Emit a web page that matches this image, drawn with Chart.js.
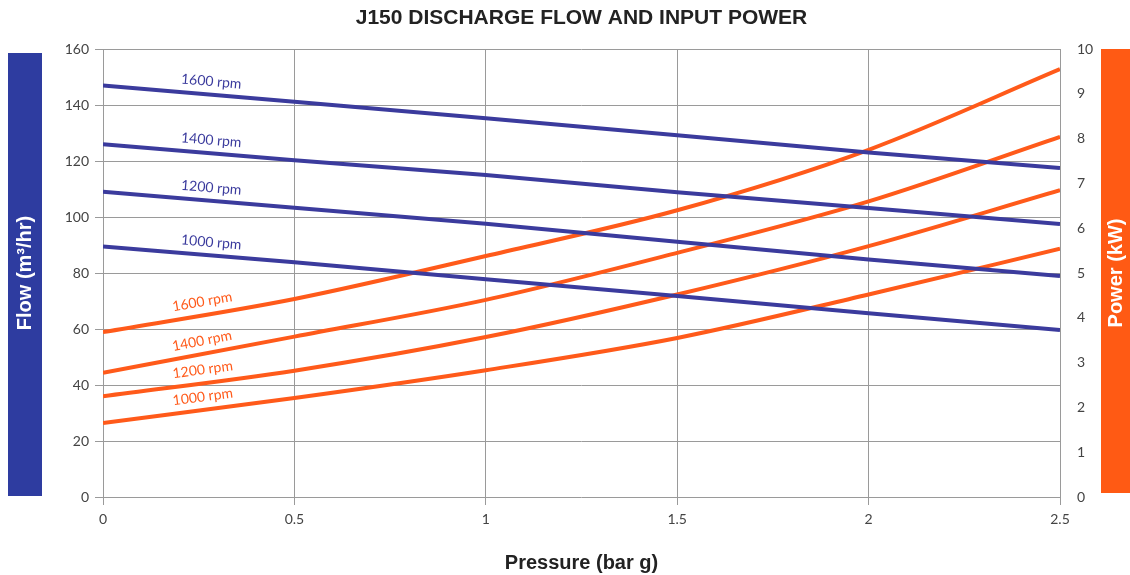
<!DOCTYPE html>
<html>
<head>
<meta charset="utf-8">
<script src="https://cdn.jsdelivr.net/npm/chart.js@4.4.0/dist/chart.umd.min.js"></script>
<style>
html, body { margin: 0; padding: 0; background: #fff; }
#wrap { width: 1130px; height: 575px; position: relative; }
</style>
</head>
<body>
<div id="wrap"><canvas id="j150"></canvas></div>
<script>
// pressure (bar g) on x
const pressure = [0, 0.5, 1, 1.5, 2, 2.5];
const speeds = ['1600 rpm', '1400 rpm', '1200 rpm', '1000 rpm'];

// discharge flow m3/hr (left axis)
const flow1600 = [147, 141.2, 135.3, 129.2, 123, 117.5];
const flow1400 = [126, 120.3, 115, 108.8, 103.2, 97.5];
const flow1200 = [109, 103.3, 97.6, 91.2, 84.8, 78.9];
const flow1000 = [89.5, 83.8, 77.8, 71.8, 65.6, 59.6];

// input power kW (right axis)
const power1600 = [3.68, 4.42, 5.38, 6.4, 7.75, 9.55];
const power1400 = [2.77, 3.58, 4.4, 5.45, 6.6, 8.04];
const power1200 = [2.25, 2.82, 3.57, 4.52, 5.6, 6.85];
const power1000 = [1.65, 2.21, 2.83, 3.55, 4.52, 5.54];

const BLUE = '#3b3b9d';
const ORANGE = '#ff5a1a';
const TICK_FONT = { family: 'Lato', size: 14 };
const BOLD = '"Liberation Sans", Arial, sans-serif';

function pts(vals) {
    return pressure.map((p, i) => ({ x: p, y: vals[i] }));
}

const flows = [flow1600, flow1400, flow1200, flow1000];
const powers = [power1600, power1400, power1200, power1000];

const datasets = [];
flows.forEach((f, i) => {
    datasets.push({
        label: 'Flow ' + speeds[i],
        data: pts(f),
        borderColor: BLUE,
        borderWidth: 4,
        pointRadius: 0,
        tension: 0,
        yAxisID: 'y',
        rpm: speeds[i]
    });
});
powers.forEach((p, i) => {
    datasets.push({
        label: 'Power ' + speeds[i],
        data: pts(p),
        borderColor: ORANGE,
        borderWidth: 4,
        pointRadius: 0,
        cubicInterpolationMode: 'monotone',
        yAxisID: 'y1',
        rpm: speeds[i]
    });
});

// title, side bars + rpm labels on the lines
const decor = {
    id: 'decor',
    beforeDraw(chart) {
        const ctx = chart.ctx;
        const a = chart.chartArea;
        const midY = (a.top + a.bottom) / 2;
        ctx.save();
        ctx.fillStyle = '#2e3ca0';
        ctx.fillRect(8, a.top + 4, 34, a.bottom - a.top - 5);
        ctx.fillStyle = '#ff5a14';
        ctx.fillRect(1101, a.top, 29, a.bottom - a.top - 4);

        ctx.fillStyle = '#222';
        ctx.font = 'bold 21px ' + BOLD;
        ctx.textAlign = 'center';
        ctx.textBaseline = 'middle';
        ctx.fillText('J150 DISCHARGE FLOW AND INPUT POWER', (a.left + a.right) / 2, 18);
        ctx.restore();

        [['Flow (m\u00B3/hr)', 25], ['Power (kW)', 1116]].forEach(([txt, x]) => {
            ctx.save();
            ctx.fillStyle = '#fff';
            ctx.font = 'bold 20px ' + BOLD;
            ctx.textAlign = 'center';
            ctx.textBaseline = 'middle';
            ctx.translate(x, midY);
            ctx.rotate(-Math.PI / 2);
            ctx.fillText(txt, 0, 0);
            ctx.restore();
        });
    },
    afterDatasetsDraw(chart) {
        const ctx = chart.ctx;
        const xs = chart.scales.x;
        chart.data.datasets.forEach((ds, i) => {
            const meta = chart.getDatasetMeta(i);
            const p0 = meta.data[0], p1 = meta.data[1];
            const isFlow = ds.yAxisID === 'y';
            const px = xs.getPixelForValue(isFlow ? 0.28 : 0.265);
            const t = (px - p0.x) / (p1.x - p0.x);
            const py = p0.y + t * (p1.y - p0.y);
            const ang = Math.atan2(p1.y - p0.y, p1.x - p0.x);
            ctx.save();
            ctx.translate(px, py);
            ctx.rotate(ang);
            ctx.font = '14px Lato, sans-serif';
            ctx.fillStyle = isFlow ? BLUE : ORANGE;
            ctx.textAlign = 'center';
            ctx.textBaseline = 'middle';
            ctx.fillText(ds.rpm, 0, -13);
            ctx.restore();
        });
    }
};

new Chart(document.getElementById('j150'), {
    type: 'line',
    data: { datasets: datasets },
    options: {
        responsive: true,
        maintainAspectRatio: false,
        animation: false,
        layout: { padding: { top: 49 } },
        plugins: {
            legend: { display: false },
            tooltip: { enabled: false },
            title: { display: false }
        },
        scales: {
            x: {
                type: 'linear',
                min: 0,
                max: 2.5,
                ticks: {
                    stepSize: 0.5, color: '#444', font: TICK_FONT, padding: 6,
                    callback: v => String(v)
                },
                grid: { color: '#9a9a9a', tickLength: 8 },
                border: { display: false },
                title: {
                    display: true,
                    text: 'Pressure (bar g)',
                    color: '#222',
                    font: { family: BOLD, size: 20, weight: 'bold' },
                    padding: { top: 0, bottom: 0 }
                },
                afterFit(s) { s.height = 78; }
            },
            y: {
                position: 'left',
                min: 0,
                max: 160,
                ticks: { stepSize: 20, color: '#444', font: TICK_FONT, padding: 6 },
                grid: { color: '#9a9a9a', tickLength: 8 },
                border: { display: false },
                afterFit(s) { s.width = 103; }
            },
            y1: {
                position: 'right',
                min: 0,
                max: 10,
                ticks: { stepSize: 1, color: '#444', font: TICK_FONT, padding: 9 },
                grid: { display: false },
                border: { display: false },
                afterFit(s) { s.width = 70; }
            }
        }
    },
    plugins: [decor]
});
</script>
</body>
</html>
